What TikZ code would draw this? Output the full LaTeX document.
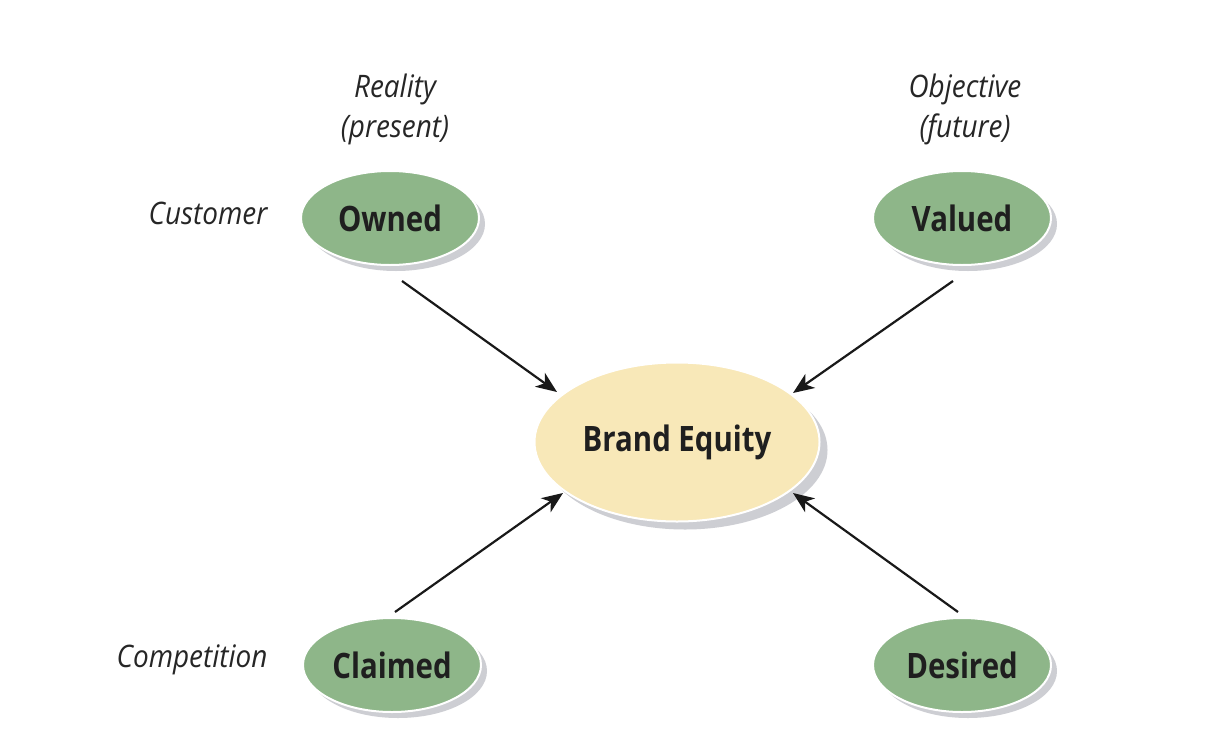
\documentclass[tikz,border=0pt]{standalone}
\usepackage{fontspec}
\setmainfont{Open Sans}
\newfontfamily\condfont{Open Sans}[FakeStretch=0.84]
\newfontfamily\labfont{Open Sans}[FakeStretch=0.9]
\usetikzlibrary{arrows.meta,shapes.geometric,shadows}
\definecolor{leaf}{HTML}{8EB689}
\definecolor{cream}{HTML}{F8E8B8}
\definecolor{shade}{HTML}{CDCED3}
\begin{document}
\begin{tikzpicture}[x=1pt,y=-1pt]
\tikzset{
  oval/.style={ellipse, draw=white, line width=2pt, inner sep=0pt,
    drop shadow={shadow xshift=6pt, shadow yshift=-6pt, fill=shade, opacity=1},
    font=\condfont\bfseries\fontsize{35}{40}\selectfont, text=black!88},
  small/.style={oval, fill=leaf, minimum width=178pt, minimum height=94pt},
  big/.style={oval, fill=cream, minimum width=285pt, minimum height=159pt,
    drop shadow={shadow xshift=8pt, shadow yshift=-8pt, fill=shade, opacity=1}},
  lab/.style={font=\labfont\itshape\fontsize{31}{40}\selectfont, text=black!85, align=center},
  arr/.style={line width=2.2pt, black!90, -{Stealth[length=21pt,width=17pt,inset=6pt]}}
}
\useasboundingbox (0,0) rectangle (1214,744);
\fill[white] (0,0) rectangle (1214,744);

\node[small] (owned)   at (390,218) {Owned};
\node[small] (valued)  at (962,218) {Valued};
\node[small] (claimed) at (392,665) {Claimed};
\node[small] (desired) at (962,665) {Desired};
\node[big]   (brand)   at (677,442) {Brand Equity};

\node[lab] (reality)   at (395,109) {Reality\\(present)};
\node[lab] (objective) at (965,109) {Objective\\(future)};
\node[lab] (customer)  at (208,213) {Customer};
\node[lab] (competition) at (192,660) {Competition};

\draw[arr] ([shift={(12,63)}]owned.center) -- ([shift={(-120,-50)}]brand.center);
\draw[arr] ([shift={(-9,63)}]valued.center) -- ([shift={(116,-49)}]brand.center);
\draw[arr] ([shift={(3,-53)}]claimed.center) -- ([shift={(-114,51)}]brand.center);
\draw[arr] ([shift={(-4,-53)}]desired.center) -- ([shift={(116,51)}]brand.center);
\end{tikzpicture}
\end{document}
